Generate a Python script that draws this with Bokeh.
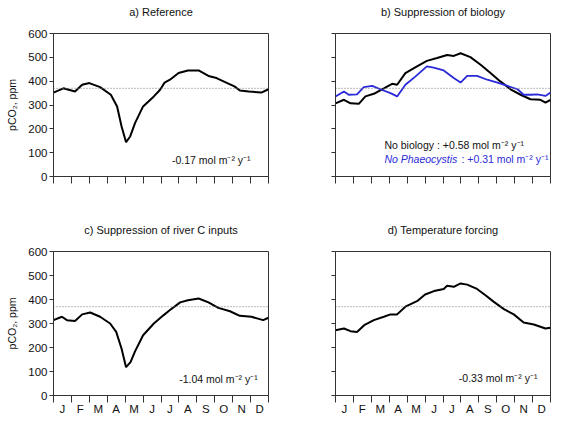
from bokeh.plotting import figure
from bokeh.layouts import column, row
from bokeh.models import Range1d, FixedTicker, Span
from bokeh.core.properties import value
from bokeh.embed import file_html
from bokeh.resources import INLINE

months = ["J", "F", "M", "A", "M", "J", "J", "A", "S", "O", "N", "D"]
atm_pco2 = 370

# a) Reference
ref_x = [0, 0.55, 1.2, 1.6, 2.0, 2.6, 3.2, 3.55, 3.8, 4.05, 4.28, 4.55, 5.0, 5.6, 5.95, 6.2, 6.5,
         6.98, 7.5, 8.1, 8.65, 9.1, 9.7, 10.1, 10.4, 10.9, 11.6, 12]
ref_y = [352, 370, 357, 385, 392, 375, 343, 294, 210, 144, 168, 224, 294, 336, 364, 394, 406,
         434, 445, 445, 422, 413, 392, 378, 361, 357, 352, 366]

# b) Suppression of biology
nobio_x = [0, 0.47, 0.84, 1.3, 1.67, 2.14, 2.7, 3.16, 3.44, 3.9, 4.55, 5.1, 5.67, 6.23, 6.6, 6.98,
           7.53, 8.1, 8.65, 9.2, 9.77, 10.33, 10.88, 11.44, 11.72, 12]
nobio_y = [307, 322, 307, 305, 336, 347, 370, 389, 385, 434, 462, 485, 497, 510, 506, 517,
           501, 469, 434, 399, 366, 343, 324, 322, 310, 322]
nophaeo_x = [0, 0.47, 0.74, 1.2, 1.58, 2.05, 2.5, 3.07, 3.44, 3.9, 4.47, 5.1, 5.48, 6.04, 6.6, 6.98,
             7.35, 7.9, 8.47, 9.04, 9.6, 10.16, 10.5, 10.9, 11.26, 11.72, 12]
nophaeo_y = [336, 357, 343, 345, 375, 380, 366, 350, 336, 385, 420, 462, 457, 445, 413, 394,
             422, 422, 406, 394, 380, 366, 343, 343, 345, 338, 352]

# c) Suppression of river C inputs
river_x = [0, 0.47, 0.75, 1.2, 1.6, 2.05, 2.6, 3.16, 3.5, 3.8, 4.05, 4.3, 4.55, 5.0, 5.6, 6.15, 6.5,
           7.07, 7.5, 8.1, 8.65, 9.2, 9.85, 10.4, 11.05, 11.7, 12]
river_y = [314, 328, 314, 310, 338, 346, 328, 300, 265, 195, 118, 139, 184, 251, 300, 335, 356,
           388, 397, 404, 388, 365, 351, 332, 328, 314, 324]

# d) Temperature forcing
temp_x = [0, 0.47, 0.84, 1.2, 1.6, 2.14, 2.7, 3.07, 3.44, 3.9, 4.55, 5.0, 5.5, 6.04, 6.23, 6.6, 6.98,
          7.35, 7.9, 8.37, 8.84, 9.4, 9.95, 10.5, 11.07, 11.72, 12]
temp_y = [272, 279, 268, 265, 293, 314, 328, 338, 338, 370, 393, 421, 435, 444, 457, 453, 467,
          462, 444, 418, 390, 360, 338, 304, 296, 279, 282]

FONT = "Liberation Sans"
AXC = "#333333"


def make_panel(title, width, height, bl, br, bt, bb, ylabels, xlabels, title_pad):
    p = figure(width=width, height=height, output_backend="svg", toolbar_location=None,
               x_range=Range1d(0, 12), y_range=Range1d(0, 600),
               min_border_left=bl, min_border_right=br, min_border_top=bt, min_border_bottom=bb)
    p.title.text = title
    p.title.align = "center"
    p.title.vertical_align = "bottom"
    p.title.text_font = FONT
    p.title.text_font_size = "11px"
    p.title.text_font_style = "normal"
    p.title.text_color = "#111111"
    p.title.standoff = 0
    p.title.padding = dict(left=0, right=0, top=0, bottom=title_pad)
    p.outline_line_color = AXC
    p.outline_line_width = 1
    p.outline_line_alpha = 1
    p.xgrid.visible = False
    p.ygrid.visible = False
    p.background_fill_color = "white"
    p.border_fill_color = "white"

    # x axis: month boundaries as minor ticks, labels centred between
    xa = p.xaxis[0]
    xa.ticker = FixedTicker(ticks=[i + 0.5 for i in range(12)],
                            minor_ticks=list(range(13)))
    overrides = {}
    for i, m in enumerate(months):
        overrides[i + 0.5] = m if xlabels else ""
    xa.major_label_overrides = overrides
    xa.major_tick_out = 0
    xa.major_tick_in = 0
    xa.minor_tick_out = 7
    xa.minor_tick_in = 0
    xa.major_label_standoff = 0
    xa.major_label_text_font = FONT
    xa.major_label_text_font_size = "11.5px"
    xa.major_label_text_color = "#111111"
    xa.axis_line_color = AXC
    xa.minor_tick_line_color = AXC

    ya = p.yaxis[0]
    ya.ticker = FixedTicker(ticks=[0, 100, 200, 300, 400, 500, 600], minor_ticks=[])
    if not ylabels:
        ya.major_label_overrides = {v: "" for v in [0, 100, 200, 300, 400, 500, 600]}
    else:
        ya.axis_label = "pCO₂, ppm"
        ya.axis_label_text_font = FONT
        ya.axis_label_text_font_size = "10.5px"
        ya.axis_label_text_font_style = "normal"
        ya.axis_label_text_color = "#111111"
        ya.axis_label_standoff = 7
    ya.major_tick_out = 4
    ya.major_tick_in = 0
    ya.major_label_standoff = 2
    ya.major_label_text_font = FONT
    ya.major_label_text_font_size = "11.5px"
    ya.major_label_text_color = "#111111"
    ya.axis_line_color = AXC
    ya.major_tick_line_color = AXC

    p.add_layout(Span(location=atm_pco2, dimension="width", line_color="#777777",
                      line_dash="1 2", line_width=1))
    return p


def note(p, x, y, txt, color="#111111", align="right", style="normal"):
    p.text(x=[x], y=[y], text=[txt], text_align=align, text_baseline="middle",
           text_font=value(FONT), text_font_size="10.5px", text_color=color,
           text_font_style=style)


pa = make_panel("a) Reference", 282, 213, 53, 14, 33, 37, True, False, 16)
pa.line(ref_x, ref_y, line_color="black", line_width=2)
note(pa, 11.0, 70, "-0.17 mol m⁻² y⁻¹")

pb = make_panel("b) Suppression of biology", 283, 213, 53, 15, 33, 37, False, False, 16)
pb.line(nobio_x, nobio_y, line_color="black", line_width=2)
pb.line(nophaeo_x, nophaeo_y, line_color="#2a2ad8", line_width=1.8)
note(pb, 2.73, 133, "No biology : +0.58 mol m⁻² y⁻¹", align="left")
note(pb, 2.73, 74, "No Phaeocystis", color="#2a2ad8", align="left", style="italic")
note(pb, 7.03, 74, ": +0.31 mol m⁻² y⁻¹", color="#2a2ad8", align="left")

pc = make_panel("c) Suppression of river C inputs", 282, 213, 53, 14, 38, 31, True, True, 16)
pc.line(river_x, river_y, line_color="black", line_width=2)
note(pc, 11.4, 67, "-1.04 mol m⁻² y⁻¹")

pd_ = make_panel("d) Temperature forcing", 283, 213, 53, 15, 38, 31, False, True, 16)
pd_.line(temp_x, temp_y, line_color="black", line_width=2)
note(pd_, 11.27, 71, "-0.33 mol m⁻² y⁻¹")

layout = column(row(pa, pb), row(pc, pd_))
open("out.html", "w").write(file_html(layout, INLINE))
